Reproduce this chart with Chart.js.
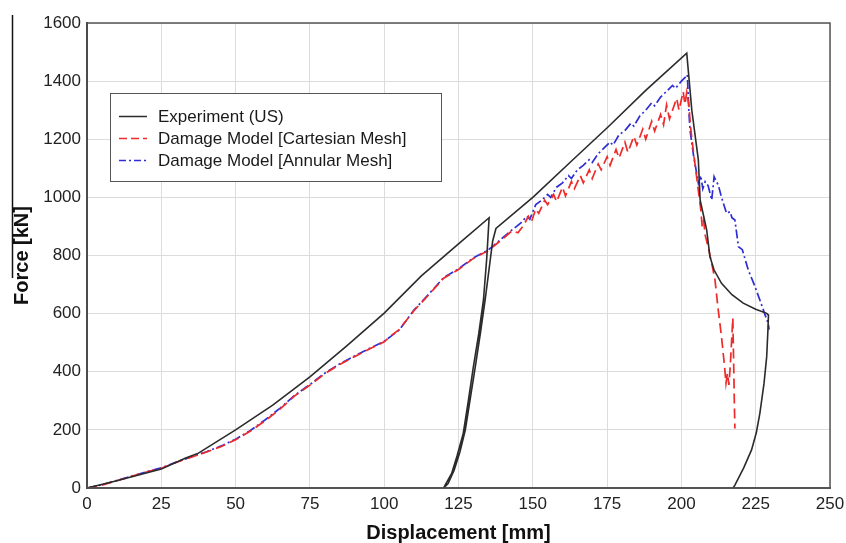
<!DOCTYPE html>
<html lang="en">
<head>
    <meta charset="UTF-8">
    <title>Force - Displacement</title>
    <style>
        body {
            margin: 0;
            background: #ffffff;
        }
        #forceChart {
            display: block;
        }
    </style>
</head>
<body>
    <canvas id="forceChart" width="846" height="543"></canvas>

    <script src="https://cdn.jsdelivr.net/npm/chart.js"></script>
    <script>
        // Axis ticks
        const xTicks = [0, 25, 50, 75, 100, 125, 150, 175, 200, 225, 250];
        const yTicks = [0, 200, 400, 600, 800, 1000, 1200, 1400, 1600];

        const seriesNames = [
            'Experiment (US)',
            'Damage Model [Cartesian Mesh]',
            'Damage Model [Annular Mesh]'
        ];

        // Experiment: loading, unloading at ~135 mm, reloading, failure and unloading
        const expX = [0, 10, 25, 33, 37.5, 50, 62.5, 75, 87.5, 100, 112.5, 125, 135.3,
            134.5, 133.4, 131.8, 130, 128.3, 126.6, 124.5, 122.7, 120.5, 120,
            121.5, 123.5, 125.5, 127.3, 129, 130.7, 132.4, 134, 135.5, 136.5, 137.6,
            150.2, 162.5, 175.4, 188, 201.8,
            203.5, 205.7, 206.3, 208.5, 209.6, 211, 213.5, 217, 220.8, 225, 228.7, 229.3,
            229.1, 228.7, 227.8, 226.4, 225.2, 223.6, 221, 218, 217.4];
        const expY = [0, 25, 65, 102, 120, 200, 285, 382, 490, 602, 730, 840, 930,
            790, 647, 530, 417, 300, 188, 110, 50, 10, 0,
            15, 60, 125, 200, 310, 420, 535, 650, 770, 850, 893,
            1002, 1120, 1243, 1368, 1496,
            1300, 1129, 991, 888, 796, 750, 704, 665, 636, 615, 601, 595,
            540, 452, 360, 257, 190, 131, 70, 10, 0];

        // Damage model, Cartesian mesh
        const cartX = [0, 5, 10, 15, 20, 25, 30, 35, 40, 45, 50, 55, 60, 65, 70, 75, 80, 85, 90, 95,
            100, 102, 105, 110, 115, 120, 125, 130, 135, 140, 143, 145, 147, 148.5, 149.5,
            151, 152, 154, 155, 157, 158, 160, 161, 163, 164, 166, 167, 169, 170, 172, 173,
            175, 176, 178, 179, 181, 182, 184, 185, 187, 188, 190, 191, 193, 194, 195, 196,
            197, 198.4, 199.2, 200.6, 201.2, 201.8,
            202.5, 203, 204, 205, 206, 206.5, 207, 207.5, 208, 209, 210.2, 211.3, 212.4,
            213.5, 214.5, 215, 215.5, 216, 216.5, 217.3, 217.6, 217.8, 218];
        const cartY = [0, 10, 25, 40, 55, 68, 88, 106, 123, 142, 166, 196, 232, 272, 318, 354, 393, 425, 452, 478,
            503, 522, 545, 610, 665, 722, 752, 790, 817, 858, 885, 878, 905, 935, 915,
            960, 945, 990, 975, 1010, 985, 1035, 1005, 1055, 1030, 1075, 1050, 1095, 1065, 1115, 1095,
            1140, 1110, 1165, 1135, 1190, 1155, 1210, 1180, 1235, 1200, 1262, 1228, 1285, 1250, 1318, 1270,
            1300, 1341, 1300, 1364, 1320, 1362,
            1320, 1250, 1160, 1080, 1000, 960, 900, 920, 870, 830, 773, 716, 612,
            520, 420, 360, 395, 355, 430, 585, 420, 300, 205];

        // Damage model, annular mesh
        const annX = [0, 5, 10, 15, 20, 25, 30, 35, 40, 45, 50, 55, 60, 65, 70, 75, 80, 85, 90, 95,
            100, 102, 105, 110, 115, 120, 125, 130, 135, 140, 143, 146, 148, 149,
            151, 153, 155, 156, 158, 160, 162, 163, 165, 167, 169, 170, 172, 174, 176, 177,
            179, 181, 183, 184, 186, 188, 190, 191, 193, 195, 197, 198, 200, 201.5, 202,
            202.5, 202.9, 204, 205.7, 206.5, 207.2, 208, 209, 210.2, 211, 211.5, 212.4,
            213.5, 215.2, 216.4, 217, 218, 219.2, 220.5, 222.5, 224.5, 226.4, 228, 229.2, 229.5];
        const annY = [0, 11, 26, 41, 56, 69, 89, 107, 124, 144, 168, 198, 235, 275, 320, 356, 395, 427, 454, 480,
            505, 520, 543, 612, 667, 724, 754, 792, 819, 862, 888, 912, 935, 925,
            975, 990, 1010, 1000, 1035, 1050, 1075, 1065, 1095, 1110, 1130, 1120, 1150, 1170, 1190, 1180,
            1215, 1230, 1255, 1245, 1280, 1300, 1325, 1315, 1345, 1365, 1385, 1375, 1400, 1415, 1422,
            1300, 1232, 1150, 1049, 1075, 1030, 1054, 1040, 991, 1071, 1060, 1043,
            1000, 945, 951, 930, 922, 830, 820, 750, 700, 647, 600, 567, 545];

        function toPoints(xs, ys) {
            return xs.map((x, i) => ({ x: x, y: ys[i] }));
        }

        const seriesColors = ['#2b2b2b', '#ee2a2a', '#2e2ed6'];
        const seriesDashes = [[], [10, 5], [9, 3, 2, 3]];

        // Frame round the plot, legend box and the thin rule at the left edge
        const decorPlugin = {
            id: 'decor',
            afterDraw(chart) {
                const ctx = chart.ctx;
                const a = chart.chartArea;
                ctx.save();

                ctx.strokeStyle = '#555555';
                ctx.lineWidth = 1.5;
                ctx.strokeRect(a.left, a.top, a.right - a.left, a.bottom - a.top);

                ctx.strokeStyle = '#111111';
                ctx.lineWidth = 1.5;
                ctx.beginPath();
                ctx.moveTo(12.5, 15);
                ctx.lineTo(12.5, 278);
                ctx.stroke();

                // legend
                const lx = 110.5, ly = 93.5, lw = 331, lh = 88;
                ctx.fillStyle = '#ffffff';
                ctx.fillRect(lx, ly, lw, lh);
                ctx.strokeStyle = '#555555';
                ctx.lineWidth = 1;
                ctx.strokeRect(lx, ly, lw, lh);

                const rows = [116.5, 138.5, 160.5];
                ctx.font = '17px "Liberation Sans", Arial, sans-serif';
                ctx.textBaseline = 'middle';
                seriesNames.forEach((name, i) => {
                    ctx.strokeStyle = seriesColors[i];
                    ctx.lineWidth = 1.5;
                    ctx.setLineDash(i === 1 ? [8, 4] : i === 2 ? [7, 3, 2, 3] : []);
                    ctx.beginPath();
                    ctx.moveTo(119, rows[i]);
                    ctx.lineTo(147, rows[i]);
                    ctx.stroke();
                    ctx.setLineDash([]);
                    ctx.fillStyle = '#1a1a1a';
                    ctx.fillText(name, 158, rows[i] + 1);
                });
                ctx.restore();
            }
        };

        const tickFont = { family: '"Liberation Sans", Arial, sans-serif', size: 17 };
        const titleFont = { family: '"Liberation Sans", Arial, sans-serif', size: 20, weight: 'bold', lineHeight: 1 };

        const ctx = document.getElementById('forceChart').getContext('2d');
        new Chart(ctx, {
            type: 'scatter',
            data: {
                datasets: [
                    { label: seriesNames[0], data: toPoints(expX, expY) },
                    { label: seriesNames[1], data: toPoints(cartX, cartY) },
                    { label: seriesNames[2], data: toPoints(annX, annY) }
                ].map((ds, i) => Object.assign(ds, {
                    showLine: true,
                    borderColor: seriesColors[i],
                    backgroundColor: seriesColors[i],
                    borderWidth: i === 0 ? 1.6 : 1.7,
                    borderDash: seriesDashes[i],
                    pointRadius: 0,
                    tension: 0
                }))
            },
            options: {
                responsive: false,
                animation: false,
                devicePixelRatio: 1,
                layout: {
                    padding: { top: 23, right: 16, left: 0, bottom: 0 }
                },
                plugins: {
                    legend: { display: false },
                    tooltip: { enabled: false }
                },
                scales: {
                    x: {
                        type: 'linear',
                        min: 0,
                        max: 250,
                        afterBuildTicks: (scale) => {
                            scale.ticks = xTicks.map(v => ({ value: v }));
                        },
                        afterFit: (scale) => {
                            scale.height = 55;
                            scale.paddingLeft = 0;
                            scale.paddingRight = 0;
                        },
                        ticks: {
                            color: '#222222',
                            font: tickFont,
                            padding: 6,
                            maxRotation: 0,
                            callback: (v) => String(v)
                        },
                        grid: {
                            color: '#dcdcdc',
                            lineWidth: 1,
                            drawTicks: false
                        },
                        border: { color: '#555555', width: 2 },
                        title: {
                            display: true,
                            text: 'Displacement [mm]',
                            color: '#111111',
                            font: titleFont,
                            padding: { top: 0, bottom: 0 }
                        }
                    },
                    y: {
                        type: 'linear',
                        min: 0,
                        max: 1600,
                        afterBuildTicks: (scale) => {
                            scale.ticks = yTicks.map(v => ({ value: v }));
                        },
                        afterFit: (scale) => {
                            scale.width = 87;
                            scale.paddingTop = 0;
                            scale.paddingBottom = 0;
                        },
                        ticks: {
                            color: '#222222',
                            font: tickFont,
                            padding: 6,
                            callback: (v) => String(v)
                        },
                        grid: {
                            color: '#dcdcdc',
                            lineWidth: 1,
                            drawTicks: false
                        },
                        border: { color: '#333333', width: 2 },
                        title: {
                            display: true,
                            text: 'Force [kN]',
                            color: '#111111',
                            font: titleFont,
                            padding: { top: 12, bottom: 0 }
                        }
                    }
                }
            },
            plugins: [decorPlugin]
        });
    </script>
</body>
</html>
